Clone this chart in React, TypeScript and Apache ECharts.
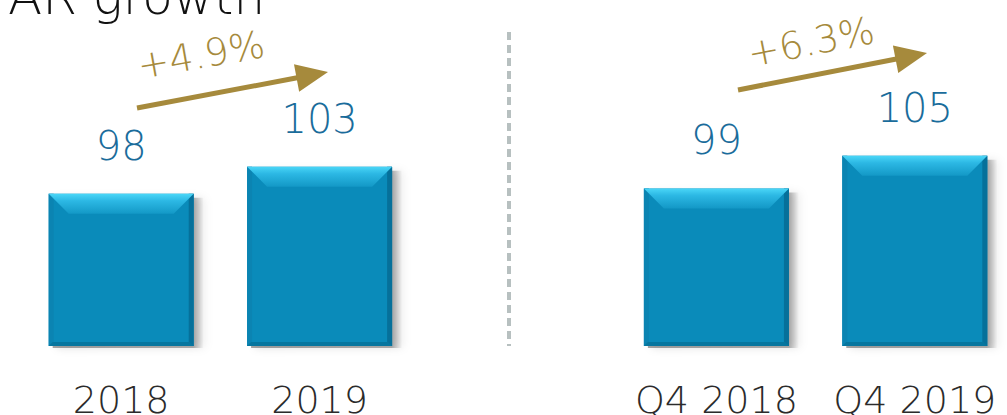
import React, { useEffect, useRef } from "react";
import * as echarts from "echarts";

const categories = ["2018", "2019", "", "Q4 2018", "Q4 2019"];
const barIndex = [0, 1, 3, 4];
const barValues = [98, 103, 99, 105];
const growthLabels = ["+4.9%", "+6.3%"];
const titleText = "AR growth";

const AXIS_MIN = 70;
const AXIS_MAX = 130;

export default function App() {
  const ref = useRef<HTMLDivElement>(null);
  useEffect(() => {
    if (!ref.current) return;
    const chart = echarts.init(ref.current, undefined, { renderer: "svg" });
    const gold = "#a68a3c";
    const face = "#0a8bba";

    const renderItem = (params: any, api: any) => {
      const idx = api.value(0);
      const val = api.value(1);
      const top = api.coord([idx, val]);
      const base = api.coord([idx, AXIS_MIN]);
      const bw = api.size([1, 0])[0] * 0.731;
      const x0 = top[0] - bw / 2;
      const x1 = top[0] + bw / 2;
      const y0 = top[1];
      const y1 = base[1];
      const b = 20;
      const s = 5;
      return {
        type: "group",
        children: [
          {
            type: "rect",
            shape: { x: x0 + 4, y: y0 + 4, width: bw + 6, height: y1 - y0 - 2 },
            style: {
              fill: new echarts.graphic.LinearGradient(0, 0, 1, 0, [
                { offset: 0, color: "rgba(0,0,0,0.35)" },
                { offset: 0.93, color: "rgba(0,0,0,0.30)" },
                { offset: 1, color: "rgba(0,0,0,0)" },
              ]),
              shadowBlur: 8,
              shadowColor: "rgba(0,0,0,0.35)",
              shadowOffsetX: 4,
            },
          },
          {
            type: "rect",
            shape: { x: x0, y: y0, width: bw, height: y1 - y0 },
            style: { fill: face },
          },
          {
            type: "rect",
            shape: { x: x0, y: y0, width: s, height: y1 - y0 },
            style: { fill: "#0b84b2" },
          },
          {
            type: "rect",
            shape: { x: x1 - s, y: y0, width: s, height: y1 - y0 },
            style: { fill: "#06709a" },
          },
          {
            type: "polygon",
            shape: { points: [[x0, y1], [x0 + 4, y1 - 4], [x1 - 4, y1 - 4], [x1, y1]] },
            style: { fill: "#06769f" },
          },
          {
            type: "polygon",
            shape: { points: [[x0, y0], [x1, y0], [x1 - b, y0 + b], [x0 + b, y0 + b]] },
            style: {
              fill: new echarts.graphic.LinearGradient(0, 0, 0, 1, [
                { offset: 0, color: "#4ad6f7" },
                { offset: 0.35, color: "#2cb8e4" },
                { offset: 1, color: "#1398c6" },
              ]),
            },
          },
          {
            type: "text",
            x: top[0],
            y: y0 - 48,
            style: {
              text: String(val),
              fill: "#1a6c9b",
              font: "200 40px 'DejaVu Sans'",
              align: "center",
              verticalAlign: "middle",
            },
          },
        ],
      };
    };

    const arrow = (x1: number, y1: number, tx: number, ty: number) => {
      const dx = tx - x1;
      const dy = ty - y1;
      const len = Math.sqrt(dx * dx + dy * dy);
      const ux = dx / len;
      const uy = dy / len;
      const nx = -uy;
      const ny = ux;
      const hl = 32;
      const hw = 14;
      const bx = tx - hl * ux;
      const by = ty - hl * uy;
      return [
        {
          type: "line",
          shape: { x1, y1, x2: bx + 2 * ux, y2: by + 2 * uy },
          style: { stroke: gold, lineWidth: 5 },
        },
        {
          type: "polygon",
          shape: { points: [[tx, ty], [bx + hw * nx, by + hw * ny], [bx - hw * nx, by - hw * ny]] },
          style: { fill: gold },
        },
      ];
    };

    chart.setOption({
      animation: false,
      grid: { left: 22, right: -7, top: 20, bottom: 69, outerBoundsMode: "none", containLabel: false },
      xAxis: {
        type: "category",
        data: categories,
        axisTick: { show: false },
        axisLine: {
          lineStyle: {
            color: "#8a9696",
            width: 2,
            shadowColor: "rgba(0,0,0,0.25)",
            shadowBlur: 3,
            shadowOffsetY: 2,
          },
        },
        axisLabel: {
          margin: 35,
          color: "#2b2b2b",
          fontFamily: "DejaVu Sans",
          fontWeight: 200,
          fontSize: 38,
          interval: 0,
        },
      },
      yAxis: { type: "value", min: AXIS_MIN, max: AXIS_MAX, show: false },
      series: [
        {
          type: "custom",
          renderItem,
          encode: { x: 0, y: 1 },
          data: barIndex.map((i, k) => [i, barValues[k]]),
          z: 3,
        },
      ],
      graphic: [
        {
          type: "text",
          left: 8,
          top: -28,
          style: {
            text: titleText,
            fill: "#111",
            font: "200 50px 'DejaVu Sans'",
          },
        },
        {
          type: "line",
          shape: { x1: 509, y1: 32, x2: 509, y2: 346 },
          style: { stroke: "#b7c0c0", lineWidth: 4, lineDash: [8, 5] },
          z: 1,
        },
        ...arrow(137, 108, 328, 72),
        ...arrow(738, 90, 927, 53),
        {
          type: "text",
          x: 201,
          y: 55,
          rotation: (10 * Math.PI) / 180,
          style: {
            text: growthLabels[0],
            fill: gold,
            font: "200 38px 'DejaVu Sans'",
            align: "center",
            verticalAlign: "middle",
          },
        },
        {
          type: "text",
          x: 811,
          y: 42,
          rotation: (11 * Math.PI) / 180,
          style: {
            text: growthLabels[1],
            fill: gold,
            font: "200 38px 'DejaVu Sans'",
            align: "center",
            verticalAlign: "middle",
          },
        },
      ],
    });
    return () => chart.dispose();
  }, []);
  return (
    <div
      ref={ref}
      style={{ position: "absolute", left: 0, top: 0, width: 1007, height: 415 }}
    />
  );
}
